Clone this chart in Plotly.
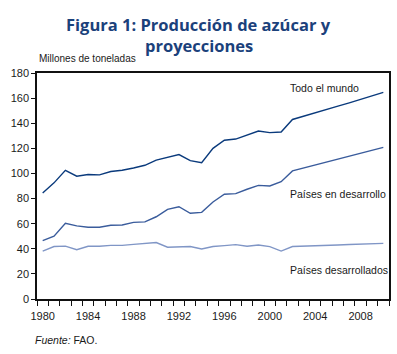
import plotly.graph_objects as go

years = list(range(1980, 2011))
world = [84.5, 92.5, 102.5, 97.8, 99.2, 98.9, 101.5, 102.5, 104.3, 106.5,
         110.6, 112.6, 115.0, 110.2, 108.6, 120.0, 126.4, 127.4, 130.4, 133.8,
         132.5, 133.0, 143.0, 145.8, 148.4, 151.0, 153.6, 156.2, 158.9, 161.7, 164.6]
developing = [46.5, 50.0, 60.3, 58.2, 57.1, 57.1, 58.7, 58.9, 61.0, 61.4,
              65.5, 71.4, 73.5, 68.3, 69.0, 77.3, 83.4, 83.9, 87.4, 90.5,
              90.0, 93.4, 102.0, 104.3, 106.6, 108.9, 111.2, 113.6, 116.0, 118.4, 120.8]
developed = [38.2, 41.8, 42.1, 39.2, 42.0, 42.0, 42.7, 42.7, 43.5, 44.3,
             45.0, 41.2, 41.2, 41.8, 39.8, 41.8, 42.5, 43.3, 42.0, 43.0,
             41.7, 38.2, 41.8, 42.0, 42.3, 42.7, 43.0, 43.4, 43.7, 44.0, 44.3]
series_names = ["Todo el mundo", "Países en desarrollo", "Países desarrollados"]
label_y = [168, 83.6, 23.1]
colors = ["#0a3a7c", "#3a5c9c", "#8096c6"]
title_lines = ["Figura 1: Producción de azúcar y", "proyecciones"]

FONT = "Liberation Sans"
TXT = "#1a1a1a"

fig = go.Figure()
for vals, name, col in zip([world, developing, developed], series_names, colors):
    fig.add_trace(go.Scatter(x=years, y=vals, mode="lines", name=name,
                             line=dict(color=col, width=1.4)))

for name, ly in zip(series_names, label_y):
    fig.add_annotation(x=2001.6, y=ly, xref="x", yref="y", text=name, showarrow=False,
                       xanchor="left", yanchor="middle",
                       font=dict(family=FONT, size=10.5, color=TXT))

for line, py in zip(title_lines, [1.215, 1.122]):
    fig.add_annotation(x=0.46, y=py, xref="paper", yref="paper",
                       text="<b>" + line + "</b>", showarrow=False,
                       xanchor="center", yanchor="middle",
                       font=dict(family="Open Sans", size=16.5, color="#1b417b"))

fig.add_annotation(x=0, y=1.03, xref="paper", yref="paper", text="Millones de toneladas",
                   showarrow=False, xanchor="left", yanchor="bottom",
                   font=dict(family=FONT, size=10, color=TXT))
fig.add_annotation(x=-0.012, y=-0.18, xref="paper", yref="paper",
                   text="<i>Fuente:</i> FAO.", showarrow=False, xanchor="left",
                   yanchor="middle", font=dict(family=FONT, size=10.5, color=TXT))

fig.update_layout(
    width=397, height=354,
    margin=dict(l=37, r=6, t=73, b=55),
    paper_bgcolor="white", plot_bgcolor="white",
    showlegend=False,
    xaxis=dict(range=[1979.5, 2010.5], tickmode="linear", tick0=1980, dtick=4,
               ticks="", showgrid=False, zeroline=False, ticklabelstandoff=6,
               showline=True, linecolor="#111111", linewidth=1.5, mirror=True,
               tickfont=dict(family=FONT, size=11, color=TXT),
               minor=dict(ticks="outside", tick0=1979.5, dtick=1, ticklen=5,
                          tickcolor="#111111", tickwidth=1, showgrid=False)),
    yaxis=dict(range=[0, 180], tickmode="linear", tick0=0, dtick=20,
               ticks="outside", ticklen=4, tickcolor="#111111",
               showgrid=False, zeroline=False,
               showline=True, linecolor="#111111", linewidth=1.5, mirror=True,
               tickfont=dict(family=FONT, size=11, color=TXT)),
)

fig.write_html("out.html")
